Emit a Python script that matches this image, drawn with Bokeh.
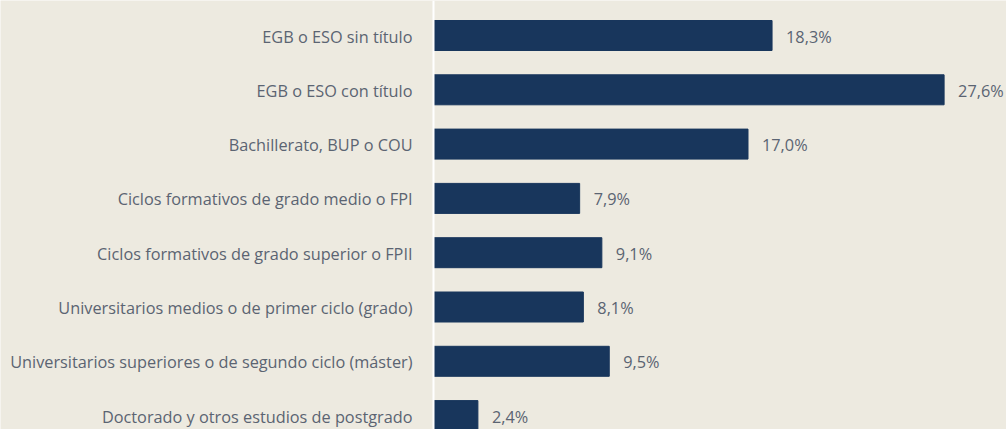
from bokeh.plotting import figure
from bokeh.models import ColumnDataSource, Range1d, Span
from bokeh.core.properties import value
from bokeh.embed import file_html
from bokeh.resources import INLINE

categories = [
    "EGB o ESO sin título",
    "EGB o ESO con título",
    "Bachillerato, BUP o COU",
    "Ciclos formativos de grado medio o FPI",
    "Ciclos formativos de grado superior o FPII",
    "Universitarios medios o de primer ciclo (grado)",
    "Universitarios superiores o de segundo ciclo (máster)",
    "Doctorado y otros estudios de postgrado",
]
values = [18.3, 27.6, 17.0, 7.9, 9.1, 8.1, 9.5, 2.4]
value_labels = ["18,3%", "27,6%", "17,0%", "7,9%", "9,1%", "8,1%", "9,5%", "2,4%"]

BG = "#EDEAE0"
BAR = "#18365C"
TXT = "#5B6472"
FONT = "Open Sans"

W, H = 1006, 429
AXIS_PX = 433          # pixel position of zero inside the figure
PX_PER_PCT = 18.5
ROW_PX = 54.3
FIRST_ROW_PX = 35

x0 = -AXIS_PX / PX_PER_PCT
x1 = (W - AXIS_PX) / PX_PER_PCT
ytop = -FIRST_ROW_PX / ROW_PX
ybot = ytop + H / ROW_PX

src = ColumnDataSource(dict(
    y=list(range(len(categories))),
    v=values,
    cat=categories,
    lab=value_labels,
))

p = figure(width=W, height=H, output_backend="svg", toolbar_location=None,
           x_range=Range1d(x0, x1), y_range=Range1d(ybot, ytop),
           x_axis_location=None, y_axis_location=None, min_border=0)
p.grid.visible = False
p.outline_line_color = None
p.background_fill_color = BG
p.border_fill_color = BG

p.hbar(y="y", left=0, right="v", height=30 / ROW_PX, source=src,
       fill_color=BAR, line_color=BAR)

p.text(x=0, y="y", text="cat", source=src, x_offset=-21, y_offset=1,
       text_align="right", text_baseline="middle",
       text_font=value(FONT), text_font_size="16.3px", text_color=TXT)
p.text(x="v", y="y", text="lab", source=src, x_offset=14, y_offset=1,
       text_align="left", text_baseline="middle",
       text_font=value(FONT), text_font_size="16.3px", text_color=TXT)

p.add_layout(Span(location=0, dimension="height", line_color="white", line_width=2))

open("out.html", "w").write(file_html(p, INLINE))
